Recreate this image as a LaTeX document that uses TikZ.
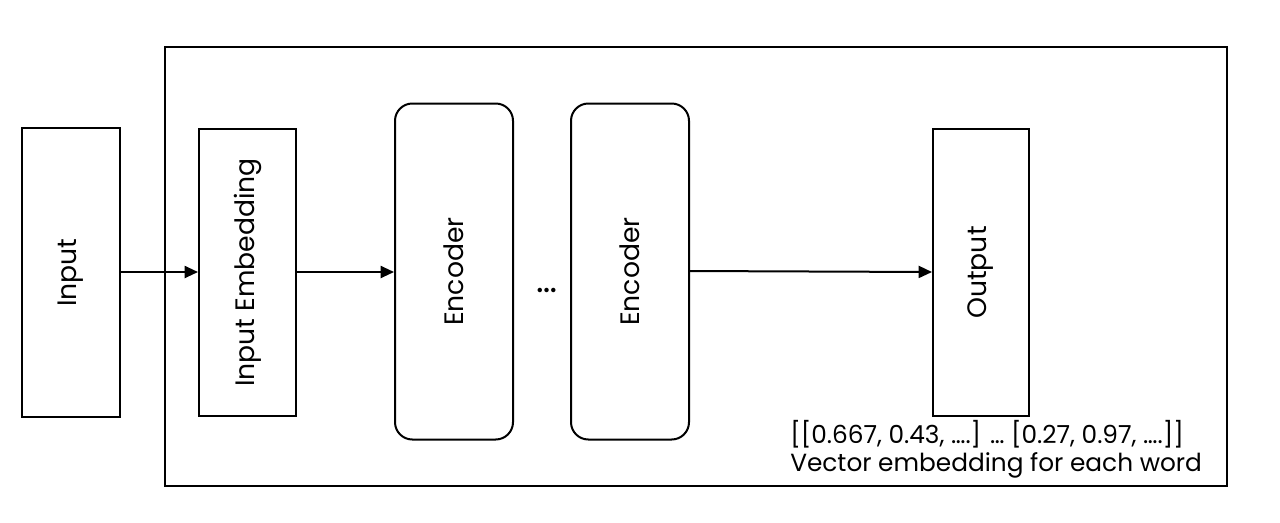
\documentclass[tikz,border=0pt]{standalone}
\usepackage{fontspec}
\setmainfont{Poppins}
\usetikzlibrary{arrows.meta}
\begin{document}
\begin{tikzpicture}[x=0.75pt,y=-0.75pt,
  box/.style={draw=black,line width=1.5pt,fill=white,inner sep=0pt},
  rbox/.style={box,rounded corners=13pt},
  lbl/.style={font=\fontsize{20}{24}\selectfont,rotate=90},
  conn/.style={line width=1.5pt,-{Triangle[length=10pt,width=9pt]}},
  note/.style={font=\fontsize{18.6}{22}\selectfont,anchor=base west,inner sep=0pt}]
\useasboundingbox (0,0) rectangle (1280,522);
\draw[line width=1.5pt] (165,47) rectangle (1227,486);
\node[box,minimum width=73.5pt,minimum height=216.75pt] (in) at (71,272.5) {};
\node[lbl] at (in.center) {Input};
\node[box,minimum width=72.75pt,minimum height=215.25pt] (emb) at (247.5,272.5) {};
\node[lbl] at (emb.center) {Input Embedding};
\node[rbox,minimum width=88.5pt,minimum height=252pt] (enc1) at (454,271.5) {};
\node[lbl] at (enc1.center) {Encoder};
\node[rbox,minimum width=88.5pt,minimum height=252pt] (enc2) at (630,271.5) {};
\node[lbl] at (enc2.center) {Encoder};
\node[font=\fontsize{27}{30}\selectfont,inner sep=0pt] (dots) at (547,290) {…};
\node[box,minimum width=72pt,minimum height=215.25pt] (out) at (981,272.5) {};
\node[lbl] at (out.center) {Output};
\draw[conn] (in.east |- 0,272) -- (emb.west |- 0,272);
\draw[conn] (emb.east |- 0,272) -- (enc1.west |- 0,272);
\draw[conn] (enc2.east |- 0,271) -- (out.west |- 0,272);
\node[note] (n1) at (790,443) {[[0.667, 0.43, ….] … [0.27, 0.97, ….]]};
\node[note] (n2) at (790,471) {Vector embedding for each word};
\end{tikzpicture}
\end{document}
